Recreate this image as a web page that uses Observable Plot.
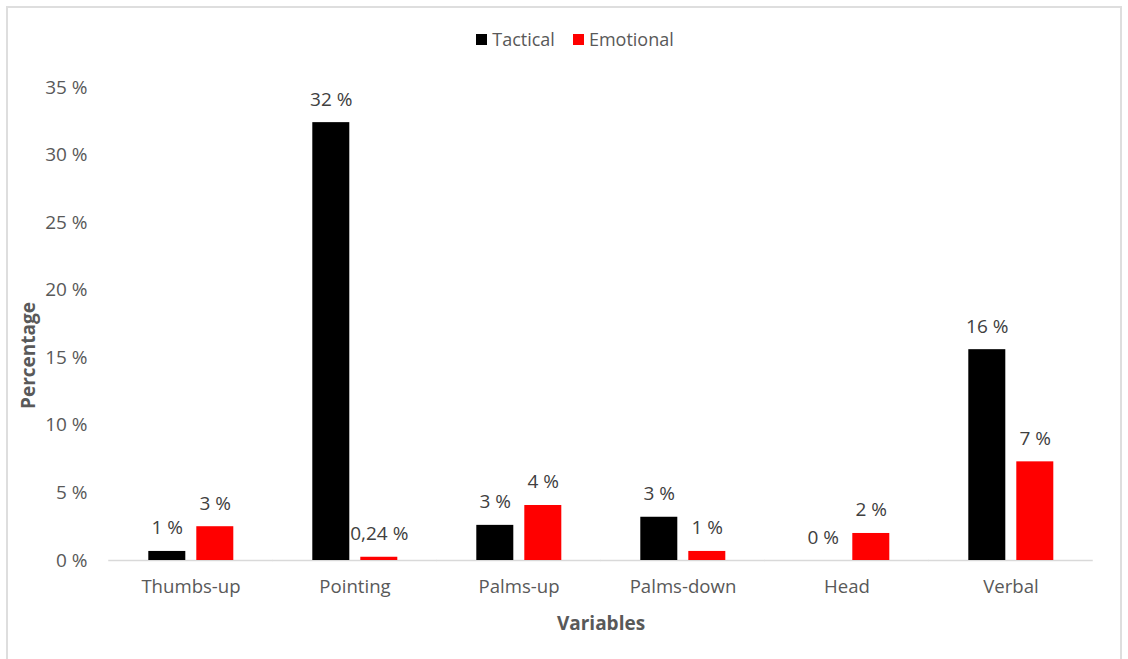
<!DOCTYPE html>
<html><head><meta charset="utf-8">
<script src="https://cdn.jsdelivr.net/npm/d3@7"></script>
<script src="https://cdn.jsdelivr.net/npm/@observablehq/plot@0.6"></script>
<style>
body{margin:0;background:#fff;font-family:"Open Sans",sans-serif;}
#wrap{position:relative;width:1128px;height:659px;overflow:hidden;background:#fff;}
#frame{position:absolute;left:6px;top:6px;width:1116px;height:720px;border:2px solid #dedede;box-sizing:border-box;}
#legend{position:absolute;top:28px;left:11px;width:1128px;height:22px;display:flex;justify-content:center;align-items:center;font-size:18px;color:#595959;}
#legend .item{display:flex;align-items:center;margin:0 9px;}
#legend .sw{width:11px;height:11px;margin-right:5px;}
#chart{position:absolute;top:60px;left:0;}
</style>
</head><body>
<div id="wrap">
<div id="frame"></div>
<div id="legend"></div>
<div id="chart"></div>
</div>
<script>
const categories = ["Thumbs-up","Pointing","Palms-up","Palms-down","Head","Verbal"];
const series = ["Tactical","Emotional"];
const seriesColors = ["#000000","#ff0000"];
const tactical = [0.67, 32.4, 2.6, 3.2, 0, 15.6];
const emotional = [2.5, 0.24, 4.07, 0.67, 2.0, 7.3];
const tacticalLabels = ["1 %","32 %","3 %","3 %","0 %","16 %"];
const emotionalLabels = ["3 %","0,24 %","4 %","1 %","2 %","7 %"];
const yTicks = [0,5,10,15,20,25,30,35];

const data = categories.flatMap((c,i)=>[
  {category:c, series:series[0], value:tactical[i], label:tacticalLabels[i]},
  {category:c, series:series[1], value:emotional[i], label:emotionalLabels[i]}
]);

const legend = document.getElementById("legend");
series.forEach((s,i)=>{
  const it = document.createElement("div"); it.className="item";
  const sw = document.createElement("div"); sw.className="sw"; sw.style.background=seriesColors[i];
  const tx = document.createElement("span"); tx.textContent=s;
  it.appendChild(sw); it.appendChild(tx); legend.appendChild(it);
});

const halfGap = 39.75;
const chart = Plot.plot({
  width:1128, height:599,
  marginLeft:146.7, marginRight:73.7, marginTop:27, marginBottom:99,
  style:{fontFamily:"Open Sans", fontSize:"19px", color:"#595959", background:"transparent", overflow:"visible"},
  fx:{domain:categories, paddingInner:0.483, paddingOuter:0, label:null},
  x:{domain:series, paddingInner:0.23, paddingOuter:0, axis:null},
  y:{domain:[0,35]},
  color:{domain:series, range:seriesColors},
  marks:[
    Plot.axisY(yTicks, {tickSize:0, tickPadding:61, tickFormat:d=>d+" %", label:null, fontSize:19, fill:"#595959"}),
    Plot.axisFx({anchor:"bottom", tickSize:0, tickPadding:19, label:null, fontSize:18.6, fill:"#595959"}),
    Plot.ruleY([0], {stroke:"#d9d9d9", strokeWidth:1.5, insetLeft:-halfGap, insetRight:-halfGap}),
    Plot.barY(data, {fx:"category", x:"series", y:"value", fill:"series"}),
    Plot.text(data, {fx:"category", x:"series", y:"value", text:"label", lineAnchor:"bottom", dy:-17, fill:"#404040", fontSize:19}),
    Plot.text(["Percentage"], {facet:"super", frameAnchor:"left", rotate:-90, dx:-119.7, dy:85, fontWeight:"bold", fontSize:19, fill:"#595959"}),
    Plot.text(["Variables"], {facet:"super", frameAnchor:"bottom", dy:69, fontWeight:"bold", fontSize:19, fill:"#595959"})
  ]
});
document.getElementById("chart").appendChild(chart);
</script>
</body></html>
